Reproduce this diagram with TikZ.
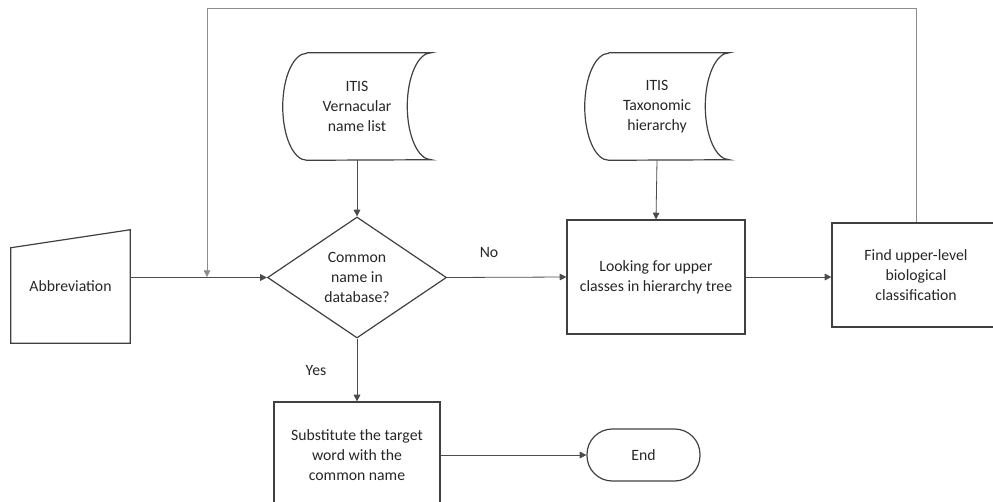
\documentclass[tikz,border=0pt]{standalone}
\usepackage{fontspec}
\setmainfont{Carlito}
\usetikzlibrary{positioning,arrows.meta,shapes.geometric,calc}

\begin{document}
\begin{tikzpicture}[
    x=0.75pt, y=-0.75pt,
    every node/.style={font=\fontsize{11.8pt}{14.8pt}\selectfont, text=black!85, align=center, inner sep=0pt},
    outline/.style={draw=black!75, line width=0.9pt},
    proc/.style={outline, rectangle},
    decision/.style={outline, diamond},
    term/.style={outline, rectangle, rounded corners=19pt},
    conn/.style={draw=black!70, line width=0.6pt, -{Triangle[length=5pt,width=5pt]}},
    feedback/.style={conn, draw=black!45},
]
    \useasboundingbox (0,0) rectangle (993,501);
    \clip (0,0) rectangle (993,501);

    % input and stores
    \node[minimum width=89.25pt, minimum height=84.75pt] (abbr) at (70.5,286.5) {Abbreviation};
    \draw[outline] ($(abbr.north west)+(0,18)$) -- (abbr.north east) -- (abbr.south east) -- (abbr.south west) -- cycle;

    \node[minimum width=75pt, minimum height=80.25pt] (db1) at (357,106.5) {ITIS\\Vernacular\\name list};
    \draw[outline] (db1.north west) -- ($(db1.north east)+(24,0)$)
        arc[start angle=270, end angle=90, x radius=24, y radius=53.5]
        -- (db1.south west) arc[start angle=90, end angle=270, x radius=24, y radius=53.5];

    \node[minimum width=72pt, minimum height=80.25pt] (db2) at (657,106.5) {ITIS\\Taxonomic\\hierarchy};
    \draw[outline] (db2.north west) -- ($(db2.north east)+(24,0)$)
        arc[start angle=270, end angle=90, x radius=24, y radius=53.5]
        -- (db2.south west) arc[start angle=90, end angle=270, x radius=24, y radius=53.5];

    % process steps
    \node[decision, minimum width=134.25pt, minimum height=90.75pt] (dia) at (357,277.5) {Common\\name in\\database?};
    \node[proc, minimum width=133.5pt, minimum height=85.5pt] (look) at (656,277) {Looking for upper\\classes in hierarchy tree};
    \node[proc, minimum width=126pt, minimum height=78pt] (find) at (916,275) {Find upper-level\\biological\\classification};
    \node[proc, minimum width=124.5pt, minimum height=79.5pt] (sub) at (357,455) {Substitute the target\\word with the\\common name};
    \node[term, minimum width=84.75pt, minimum height=39pt] (end) at (643.5,455) {End};

    \node (lblno) at (489,252) {No};
    \node (lblyes) at (316,371) {Yes};

    \coordinate (fbtop) at (207,8);
    \coordinate (merge) at (207,277);

    % connectors
    \draw[conn] (abbr.east |- dia.west) -- (dia.west);
    \draw[conn] (db1.south) -- (dia.north);
    \draw[conn] (db2.south) -- (look.north);
    \draw[conn] (dia.east) -- (look.west);
    \draw[conn] (look.east) -- (look.east -| find.west);
    \draw[conn] (dia.south) -- (sub.north);
    \draw[conn] (sub.east) -- (end.west);
    \draw[feedback] (find.north) |- (fbtop) -- (merge);
\end{tikzpicture}
\end{document}
